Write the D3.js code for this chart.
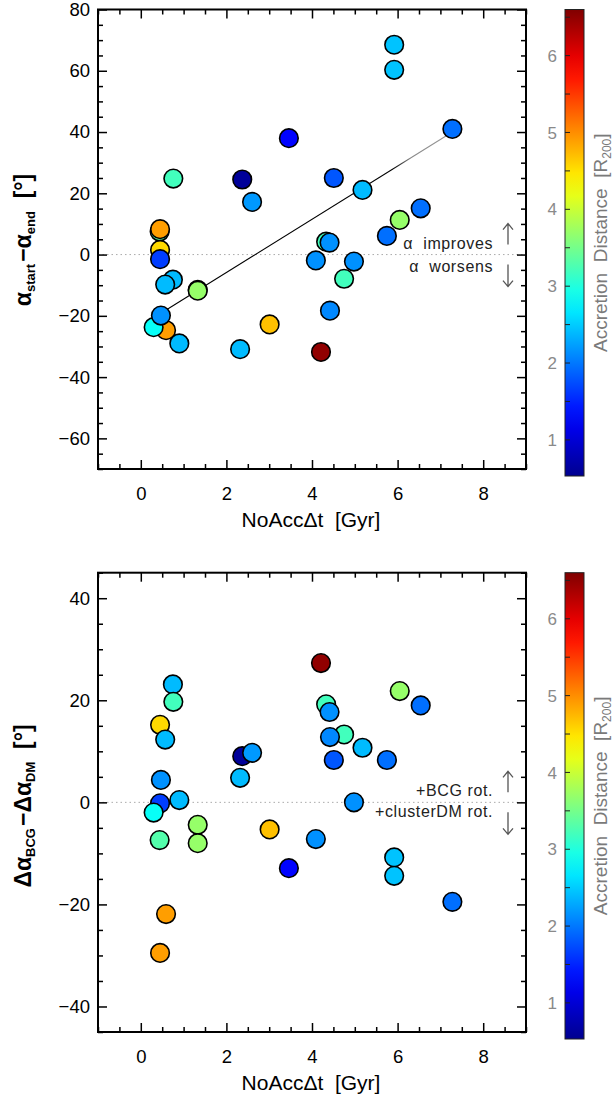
<!DOCTYPE html>
<html>
<head>
<meta charset="utf-8">
<script src="https://cdn.jsdelivr.net/npm/d3@7"></script>
<style>
  body { margin: 0; background: #fff; }
  svg { display: block; font-family: "Liberation Sans", Arial, sans-serif; }
</style>
</head>
<body>
<svg id="chart" width="613" height="1099"></svg>
<script>
// ---- data ----
var noAccDt        = [2.37, 2.6, 3.46, 0.75, 0.76, 0.44, 0.45, 0.45, 0.57, 0.59, 0.45, 0.3, 0.47, 1.33, 1.33, 0.9, 2.32, 3.01,
                      5.92, 5.92, 7.28, 4.51, 5.18, 6.54, 6.05, 5.75, 4.33, 4.41, 4.09, 4.98, 4.75, 4.42, 4.21];
var dAlphaStartEnd = [24.5, 17.2, 38, -8.2, 24.8, 7.5, 8.3, 1.5, -9.8, -24.7, -1.5, -23.7, -19.9, -11.5, -11.8, -29, -30.9, -22.8,
                      68.5, 60.3, 41, 25, 21.1, 15.1, 11.3, 6.1, 4.2, 3.9, -1.9, -2.3, -7.9, -18.3, -31.8];
var dAlphaBcgDm    = [9.05, 9.7, -12.9, 23.1, 19.7, -7.4, -29.5, 15.2, 12.3, -21.9, -0.2, -2, 4.4, -4.4, -8.0, 0.45, 4.8, -5.3,
                      -10.8, -14.4, -19.5, 8.3, 10.7, 19.0, 21.8, 8.3, 19.2, 17.7, -7.2, 0, 13.3, 12.8, 27.3];
var accDist        = [0.6, 2.2, 1.3, 2.4, 3.2, 3.3, 4.9, 4.55, 2.4, 4.9, 1.65, 2.85, 2.15, 3.7, 3.7, 2.4, 2.4, 4.7,
                      2.45, 2.45, 1.95, 1.8, 2.4, 1.95, 3.7, 1.95, 3.2, 2.15, 2.15, 2.15, 3.2, 2.1, 6.5];
var fitCoef = [-23.2, 8.68];   // intercept, slope of the line in the upper panel

var xTicks = [0, 2, 4, 6, 8];
var yTicksTop = [-60, -40, -20, 0, 20, 40, 60, 80];
var yTicksBot = [-40, -20, 0, 20, 40];
var cbTicks = [1, 2, 3, 4, 5, 6];
var xDomain = [-1, 9];
var cDomain = [0.53, 6.6];

var xTitle = "NoAccΔt  [Gyr]";
var cbTitle = ["Accretion  Distance  [R", "200", "]"];
var yTitleTop = [["α", 0], ["start", 1], ["−", 0], ["α", 0], ["end", 1], ["  [°]", 0]];
var yTitleBot = [["Δα", 0], ["BCG", 1], ["−", 0], ["Δα", 0], ["DM", 1], ["  [°]", 0]];
var notesTop = ["α  improves", "α  worsens"];
var notesBot = ["+BCG rot.", "+clusterDM rot."];

// ---- jet colour table ----
var jetT = [0, 0.125, 0.375, 0.625, 0.875, 1];
var jetColors = ["#00008f", "#0000ff", "#00ffff", "#ffff00", "#ff0000", "#800000"];
var color = d3.scaleLinear()
    .domain(jetT.map(function(t) { return cDomain[0] + t * (cDomain[1] - cDomain[0]); }))
    .range(jetColors)
    .clamp(true);

var svg = d3.select("#chart");
var defs = svg.append("defs");

// vertical gradient for the colour bars
var grad = defs.append("linearGradient")
    .attr("id", "cbgrad")
    .attr("x1", 0).attr("y1", 1).attr("x2", 0).attr("y2", 0);
d3.range(0, 1.0001, 0.05).forEach(function(t) {
  grad.append("stop")
      .attr("offset", t)
      .attr("stop-color", color(cDomain[0] + t * (cDomain[1] - cDomain[0])));
});

var x = d3.scaleLinear().domain(xDomain).range([98, 526]);
var xMinor = d3.range(-1, 9.001, 0.5).filter(function(v) { return xTicks.indexOf(v) < 0; });

var panels = [
  {top: 9.5, bottom: 469, cbTop: 9.5, cbBottom: 476, yDomain: [-70, 80], yMajor: yTicksTop,
   values: dAlphaStartEnd, title: yTitleTop, titleY: 240, notes: notesTop, noteDy: [-6, 17], fit: true},
  {top: 572.7, bottom: 1032, cbTop: 572.7, cbBottom: 1039, yDomain: [-45, 45], yMajor: yTicksBot,
   values: dAlphaBcgDm, title: yTitleBot, titleY: 806, notes: notesBot, noteDy: [-6.5, 14.5], fit: false}
];

function styleAxis(g, size, fill) {
  g.select(".domain").remove();
  g.selectAll("line").attr("stroke", "#000").attr("stroke-width", 1.5);
  g.attr("font-family", null).attr("font-size", size);
  g.selectAll("text").attr("fill", fill || "#000");
}

panels.forEach(function(p) {
  var y = d3.scaleLinear().domain(p.yDomain).range([p.bottom, p.top]);
  var yMinor = d3.range(p.yDomain[0], p.yDomain[1] + 0.001, 5).filter(function(v) { return p.yMajor.indexOf(v) < 0; });
  var y0 = y(0);

  // zero line
  svg.append("line")
      .attr("x1", x(xDomain[0])).attr("x2", x(xDomain[1]))
      .attr("y1", y0).attr("y2", y0)
      .attr("stroke", "#aaa").attr("stroke-width", 1)
      .attr("stroke-dasharray", "1.5,3");

  // fitted line
  if (p.fit) {
    var xs = d3.extent(noAccDt);
    var lg = defs.append("linearGradient")
        .attr("id", "fitgrad").attr("gradientUnits", "userSpaceOnUse")
        .attr("x1", x(xs[0])).attr("x2", x(xs[1])).attr("y1", 0).attr("y2", 0);
    lg.append("stop").attr("offset", 0).attr("stop-color", "#000");
    lg.append("stop").attr("offset", 0.8).attr("stop-color", "#000");
    lg.append("stop").attr("offset", 0.86).attr("stop-color", "#888");
    lg.append("stop").attr("offset", 1).attr("stop-color", "#9a9a9a");
    svg.append("path")
        .attr("d", d3.line()(xs.map(function(v) { return [x(v), y(fitCoef[0] + fitCoef[1] * v)]; })))
        .attr("stroke", "url(#fitgrad)").attr("stroke-width", 1.1).attr("fill", "none");
  }

  // points
  svg.append("g").selectAll("circle")
      .data(noAccDt)
      .enter()
      .append("circle")
      .attr("cx", function(d) { return x(d); })
      .attr("cy", function(d, i) { return y(p.values[i]); })
      .attr("r", 9.3)
      .attr("fill", function(d, i) { return color(accDist[i]); })
      .attr("stroke", "#000")
      .attr("stroke-width", 1.6);

  // frame
  svg.append("rect")
      .attr("x", x(xDomain[0])).attr("y", p.top)
      .attr("width", x(xDomain[1]) - x(xDomain[0])).attr("height", p.bottom - p.top)
      .attr("fill", "none").attr("stroke", "#000").attr("stroke-width", 2);

  // axes, ticks pointing in on all four sides
  var gb = svg.append("g").attr("transform", "translate(0," + p.bottom + ")");
  gb.call(d3.axisBottom(x).tickValues(xTicks).tickSize(-9).tickPadding(18).tickFormat(d3.format("d")));
  styleAxis(gb, "18.5px");
  var gbm = svg.append("g").attr("transform", "translate(0," + p.bottom + ")");
  gbm.call(d3.axisBottom(x).tickValues(xMinor).tickSize(-5).tickFormat(""));
  styleAxis(gbm);
  var gt = svg.append("g").attr("transform", "translate(0," + p.top + ")");
  gt.call(d3.axisTop(x).tickValues(xTicks).tickSize(-9).tickFormat(""));
  styleAxis(gt);
  var gtm = svg.append("g").attr("transform", "translate(0," + p.top + ")");
  gtm.call(d3.axisTop(x).tickValues(xMinor).tickSize(-5).tickFormat(""));
  styleAxis(gtm);

  var gl = svg.append("g").attr("transform", "translate(" + x(xDomain[0]) + ",0)");
  gl.call(d3.axisLeft(y).tickValues(p.yMajor).tickSize(-9).tickPadding(8).tickFormat(d3.format("d")));
  styleAxis(gl, "18.5px");
  var glm = svg.append("g").attr("transform", "translate(" + x(xDomain[0]) + ",0)");
  glm.call(d3.axisLeft(y).tickValues(yMinor).tickSize(-5).tickFormat(""));
  styleAxis(glm);
  var gr = svg.append("g").attr("transform", "translate(" + x(xDomain[1]) + ",0)");
  gr.call(d3.axisRight(y).tickValues(p.yMajor).tickSize(-9).tickFormat(""));
  styleAxis(gr);
  var grm = svg.append("g").attr("transform", "translate(" + x(xDomain[1]) + ",0)");
  grm.call(d3.axisRight(y).tickValues(yMinor).tickSize(-5).tickFormat(""));
  styleAxis(grm);

  // x title
  svg.append("text")
      .attr("x", 311).attr("y", p.bottom + 58)
      .attr("text-anchor", "middle")
      .style("font-size", "21px")
      .style("white-space", "pre")
      .text(xTitle);

  // y title
  var yt = svg.append("text")
      .attr("transform", "translate(31," + p.titleY + ") rotate(-90)")
      .attr("text-anchor", "middle")
      .style("font-weight", "bold")
      .style("font-size", "23px")
      .style("white-space", "pre");
  var prevSub = 0;
  p.title.forEach(function(part) {
    var ts = yt.append("tspan").text(part[0]);
    if (part[1]) ts.style("font-size", "13px");
    var dy = part[1] - prevSub;
    if (dy !== 0) ts.attr("dy", dy * 4);
    if (part[0] === "−") ts.attr("dx", 2);
    prevSub = part[1];
  });

  // notes and arrows near the zero line
  svg.append("text")
      .attr("x", 493).attr("y", y0 + p.noteDy[0])
      .attr("text-anchor", "end")
      .style("font-size", "16px").style("letter-spacing", "0.6px").style("white-space", "pre")
      .attr("fill", "#222")
      .text(p.notes[0]);
  svg.append("text")
      .attr("x", 493).attr("y", y0 + p.noteDy[1])
      .attr("text-anchor", "end")
      .style("font-size", "16px").style("letter-spacing", "0.6px").style("white-space", "pre")
      .attr("fill", "#222")
      .text(p.notes[1]);
  var ax = 508;
  svg.append("path")
      .attr("d", "M" + ax + "," + (y0 - 10) + "V" + (y0 - 31) + "M" + (ax - 5) + "," + (y0 - 25) + "L" + ax + "," + (y0 - 31) + "L" + (ax + 5) + "," + (y0 - 25) +
                 "M" + ax + "," + (y0 + 10) + "V" + (y0 + 32) + "M" + (ax - 5) + "," + (y0 + 26) + "L" + ax + "," + (y0 + 32) + "L" + (ax + 5) + "," + (y0 + 26))
      .attr("stroke", "#555").attr("stroke-width", 1.3).attr("fill", "none");

  // colour bar
  var cy = d3.scaleLinear().domain(cDomain).range([p.cbBottom, p.cbTop]);
  var cbx = 565, cbw = 19;
  svg.append("rect")
      .attr("x", cbx).attr("y", p.cbTop)
      .attr("width", cbw).attr("height", p.cbBottom - p.cbTop)
      .attr("fill", "url(#cbgrad)")
      .attr("stroke", "#222").attr("stroke-width", 1);
  var cbMinor = d3.range(1.5, 6.6, 1);
  svg.append("g").selectAll("line")
      .data(cbTicks.concat(cbMinor))
      .enter().append("line")
      .attr("x1", cbx).attr("x2", cbx + 5)
      .attr("y1", function(d) { return cy(d); })
      .attr("y2", function(d) { return cy(d); })
      .attr("stroke", "#222").attr("stroke-width", 1);
  svg.append("g").selectAll("text")
      .data(cbTicks)
      .enter().append("text")
      .attr("x", 557).attr("y", function(d) { return cy(d); })
      .attr("dy", "0.36em")
      .attr("text-anchor", "end")
      .attr("fill", "#8a8a8a")
      .style("font-size", "17px")
      .text(function(d) { return d; });
  var ct = svg.append("text")
      .attr("transform", "translate(607," + ((p.cbTop + p.cbBottom) / 2) + ") rotate(-90)")
      .attr("text-anchor", "middle")
      .attr("fill", "#7a7a7a")
      .style("font-size", "19px")
      .style("white-space", "pre");
  ct.append("tspan").text(cbTitle[0]);
  ct.append("tspan").attr("dy", 4).style("font-size", "12px").text(cbTitle[1]);
  ct.append("tspan").attr("dy", -4).text(cbTitle[2]);
});
</script>
</body>
</html>
